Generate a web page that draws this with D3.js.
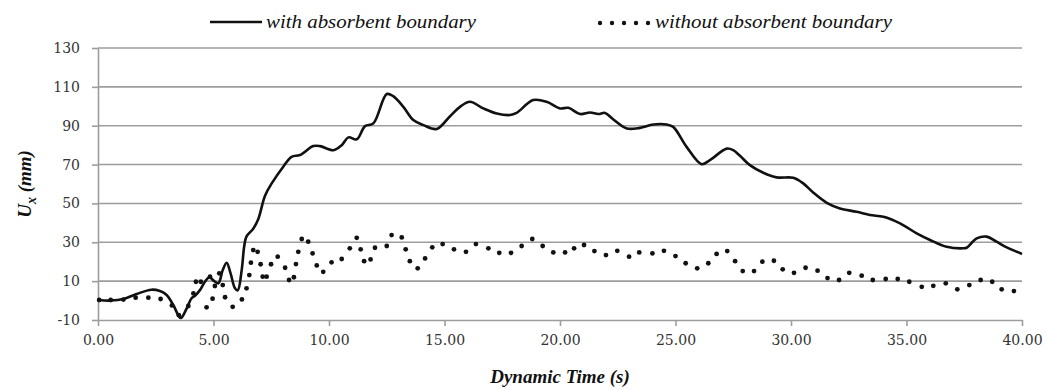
<!DOCTYPE html>
<html>
<head>
<meta charset="utf-8">
<script src="https://cdn.jsdelivr.net/npm/d3@7"></script>
<style>
    body { margin: 0; background: #fff; }
    svg { display: block; }
    .axis text { font-family: 'DejaVu Serif', serif; font-size: 14px; fill: #333; }
    .axis path, .axis line { stroke: #9d9d9d; stroke-width: 1.6px; }
    .legend-text { font-family: 'Liberation Serif', 'Times New Roman', serif; font-style: italic; font-size: 19px; fill: #111; }
    .axis-title { font-family: 'Liberation Serif', 'Times New Roman', serif; font-style: italic; font-weight: bold; font-size: 19px; fill: #111; }
</style>
</head>
<body>
<div id="chart-area"></div>
<script>
const seriesNames = ["with absorbent boundary", "without absorbent boundary"];
const xTicks = [0, 5, 10, 15, 20, 25, 30, 35, 40];
const yTicks = [-10, 10, 30, 50, 70, 90, 110, 130];

// [time (s), Ux (mm)]
const withBoundary = [
    [0, 0.3], [0.55, 0], [1.1, 0.8], [1.67, 3.4], [2.32, 5.6], [2.68, 4.9], [2.97, 2.9],
    [3.26, -2.3], [3.58, -9], [3.84, -4], [4.05, 1.2], [4.2, 2.5], [4.42, 5.5], [4.63, 9.7],
    [4.82, 12], [5.02, 10.1], [5.21, 8.9], [5.4, 15.7], [5.57, 19.5], [5.74, 14], [5.93, 6.3],
    [6.05, 5.3], [6.22, 15.7], [6.33, 28], [6.43, 33], [6.72, 37], [6.94, 42], [7.23, 54],
    [7.52, 60.3], [8.02, 68.9], [8.38, 74], [8.74, 74.9], [9.32, 79.5], [9.61, 79.5],
    [10.19, 77.4], [10.55, 80], [10.84, 84], [11.2, 83], [11.56, 89.8], [11.92, 91.2],
    [12.5, 106.3], [12.78, 105.2], [13.22, 99.7], [13.65, 92.9], [14.09, 90.3], [14.66, 88.3],
    [15.24, 94.9], [15.67, 99.7], [16.1, 102.3], [16.68, 98.9], [17.26, 96.3], [17.84, 95.5],
    [18.12, 96.6], [18.84, 103.2], [19.42, 102.3], [20.0, 98.9], [20.36, 99.2], [20.87, 96],
    [21.3, 96.8], [21.66, 96], [21.95, 96.6], [22.31, 93.2], [22.89, 88.6], [23.46, 88.9],
    [24.04, 90.6], [24.62, 90.6], [24.9, 89.4], [25.48, 79.1], [26.13, 70.2], [26.49, 72.3],
    [27.22, 78.2], [27.5, 77.4], [27.79, 74.5], [28.22, 69.7], [28.8, 65.8], [29.38, 63.4],
    [30.1, 63.2], [30.53, 60.3], [30.97, 55.5], [31.55, 50.3], [32.12, 47.4], [32.84, 45.7],
    [33.42, 44], [34.0, 43.1], [34.72, 39.7], [35.44, 34.6], [36.02, 31.2], [36.74, 27.7],
    [37.46, 26.9], [37.6, 27.2], [38.04, 32], [38.47, 32.9], [38.9, 30.3], [39.34, 27.4],
    [40, 24]
];

const withoutBoundary = [
    [0.05, 0.3], [0.55, 0.3], [1.1, 0.5], [1.63, 1.5], [2.18, 1.5], [2.71, 0.8], [3.2, -2.5],
    [3.5, -7.5], [3.91, -2.8], [4.13, 3.7], [4.24, 9.7], [4.45, 9.7], [4.7, -3.5], [4.85, 12.3],
    [4.96, 1.0], [5.06, 7.5], [5.25, 14], [5.4, 8], [5.5, 1.7], [5.83, -3.2], [6.23, 0.6],
    [6.43, 6.3], [6.55, 13.1], [6.62, 19.5], [6.72, 26], [6.91, 25.1], [7.04, 18.7],
    [7.13, 12.3], [7.3, 12.3], [7.49, 18.7], [7.78, 22.6], [8.1, 16.9], [8.27, 10.6],
    [8.48, 12], [8.57, 18.8], [8.67, 25.1], [8.82, 31.7], [9.1, 30.3], [9.29, 24.3],
    [9.47, 18.1], [9.75, 14.8], [10.11, 19.7], [10.55, 21.4], [10.9, 26.9], [11.2, 32.3],
    [11.37, 26.4], [11.52, 20.3], [11.8, 21.2], [11.99, 27.2], [12.5, 28.1], [12.71, 33.7],
    [13.15, 32.5], [13.32, 26.4], [13.5, 20.3], [13.84, 16.6], [14.16, 21.7], [14.47, 27.4],
    [14.92, 29.1], [15.41, 26.4], [15.93, 25.1], [16.36, 29.1], [16.9, 26.9], [17.37, 24.6],
    [17.88, 24.6], [18.34, 28.1], [18.8, 31.7], [19.25, 28.1], [19.71, 24.8], [20.22, 24.8],
    [20.61, 26.9], [21.04, 28.6], [21.49, 25.5], [21.99, 23.4], [22.48, 25.6], [22.99, 22.6],
    [23.43, 24.8], [24.0, 24.3], [24.5, 25.6], [25.0, 22.9], [25.44, 19.2], [25.94, 16.6],
    [26.42, 19.2], [26.78, 24], [27.24, 25.5], [27.58, 20.3], [27.91, 15.2], [28.4, 15.2],
    [28.76, 20], [29.26, 20.5], [29.64, 16.1], [30.13, 14.3], [30.63, 16.9], [31.15, 15.4],
    [31.58, 11.6], [32.08, 10.6], [32.52, 14.3], [33.06, 12.8], [33.54, 10.6], [34.1, 11.1],
    [34.62, 11.1], [35.12, 9.7], [35.66, 7.1], [36.16, 7.6], [36.7, 8.9], [37.2, 5.8],
    [37.72, 8], [38.21, 10.6], [38.71, 9.7], [39.12, 5.8], [39.65, 4.9]
];

const width = 1047;
const height = 390;

const svg = d3.select('#chart-area').append('svg')
    .attr('width', width)
    .attr('height', height);

const xScale = d3.scaleLinear().domain([0, 40]).range([98, 1022]);
const yScale = d3.scaleLinear().domain([-10, 130]).range([320, 48]);

// horizontal gridlines
svg.append('g')
    .selectAll('line')
    .data(yTicks.slice(1))
    .enter().append('line')
    .attr('x1', xScale(0))
    .attr('x2', xScale(40))
    .attr('y1', d => yScale(d))
    .attr('y2', d => yScale(d))
    .attr('stroke', '#9d9d9d')
    .attr('stroke-width', 1.6);

// axes
svg.append('g')
    .attr('class', 'axis')
    .attr('transform', `translate(${xScale(0)},0)`)
    .call(d3.axisLeft(yScale).tickValues(yTicks).tickSize(6).tickSizeOuter(0).tickPadding(12).tickFormat(d => String(d)));

svg.append('g')
    .attr('class', 'axis')
    .attr('transform', `translate(0,${yScale(-10)})`)
    .call(d3.axisBottom(xScale).tickValues(xTicks).tickSize(6).tickSizeOuter(0).tickPadding(9).tickFormat(d => d.toFixed(2)));

// solid series
const line = d3.line()
    .x(d => xScale(d[0]))
    .y(d => yScale(d[1]))
    .curve(d3.curveCatmullRom.alpha(0.5));

svg.append('path')
    .datum(withBoundary)
    .attr('fill', 'none')
    .attr('stroke', '#111')
    .attr('stroke-width', 2.6)
    .attr('stroke-linejoin', 'round')
    .attr('d', line);

// dotted series
svg.append('g')
    .selectAll('circle')
    .data(withoutBoundary)
    .enter().append('circle')
    .attr('cx', d => xScale(d[0]))
    .attr('cy', d => yScale(d[1]))
    .attr('r', 2.4)
    .attr('fill', '#111');

// legend
const legend = svg.append('g');
legend.append('line')
    .attr('x1', 210).attr('x2', 262)
    .attr('y1', 22).attr('y2', 22)
    .attr('stroke', '#111')
    .attr('stroke-width', 2.6);
legend.append('text')
    .attr('class', 'legend-text')
    .attr('x', 266).attr('y', 22).attr('dy', '0.3em')
    .attr('textLength', 210).attr('lengthAdjust', 'spacingAndGlyphs')
    .text(seriesNames[0]);

legend.selectAll('.legend-dot')
    .data(d3.range(5))
    .enter().append('circle')
    .attr('class', 'legend-dot')
    .attr('cx', i => 600 + i * 12)
    .attr('cy', 23)
    .attr('r', 2.2)
    .attr('fill', '#111');
legend.append('text')
    .attr('class', 'legend-text')
    .attr('x', 655).attr('y', 22).attr('dy', '0.3em')
    .attr('textLength', 237).attr('lengthAdjust', 'spacingAndGlyphs')
    .text(seriesNames[1]);

// axis titles
svg.append('text')
    .attr('class', 'axis-title')
    .attr('x', 560).attr('y', 383)
    .attr('text-anchor', 'middle')
    .text('Dynamic Time (s)');

const yTitle = svg.append('text')
    .attr('class', 'axis-title')
    .attr('transform', 'translate(31,184) rotate(-90)')
    .attr('text-anchor', 'middle');
yTitle.append('tspan').text('U');
yTitle.append('tspan').attr('dy', 5).style('font-size', '14px').text('x');
yTitle.append('tspan').attr('dy', -5).text(' (mm)');
</script>
</body>
</html>
